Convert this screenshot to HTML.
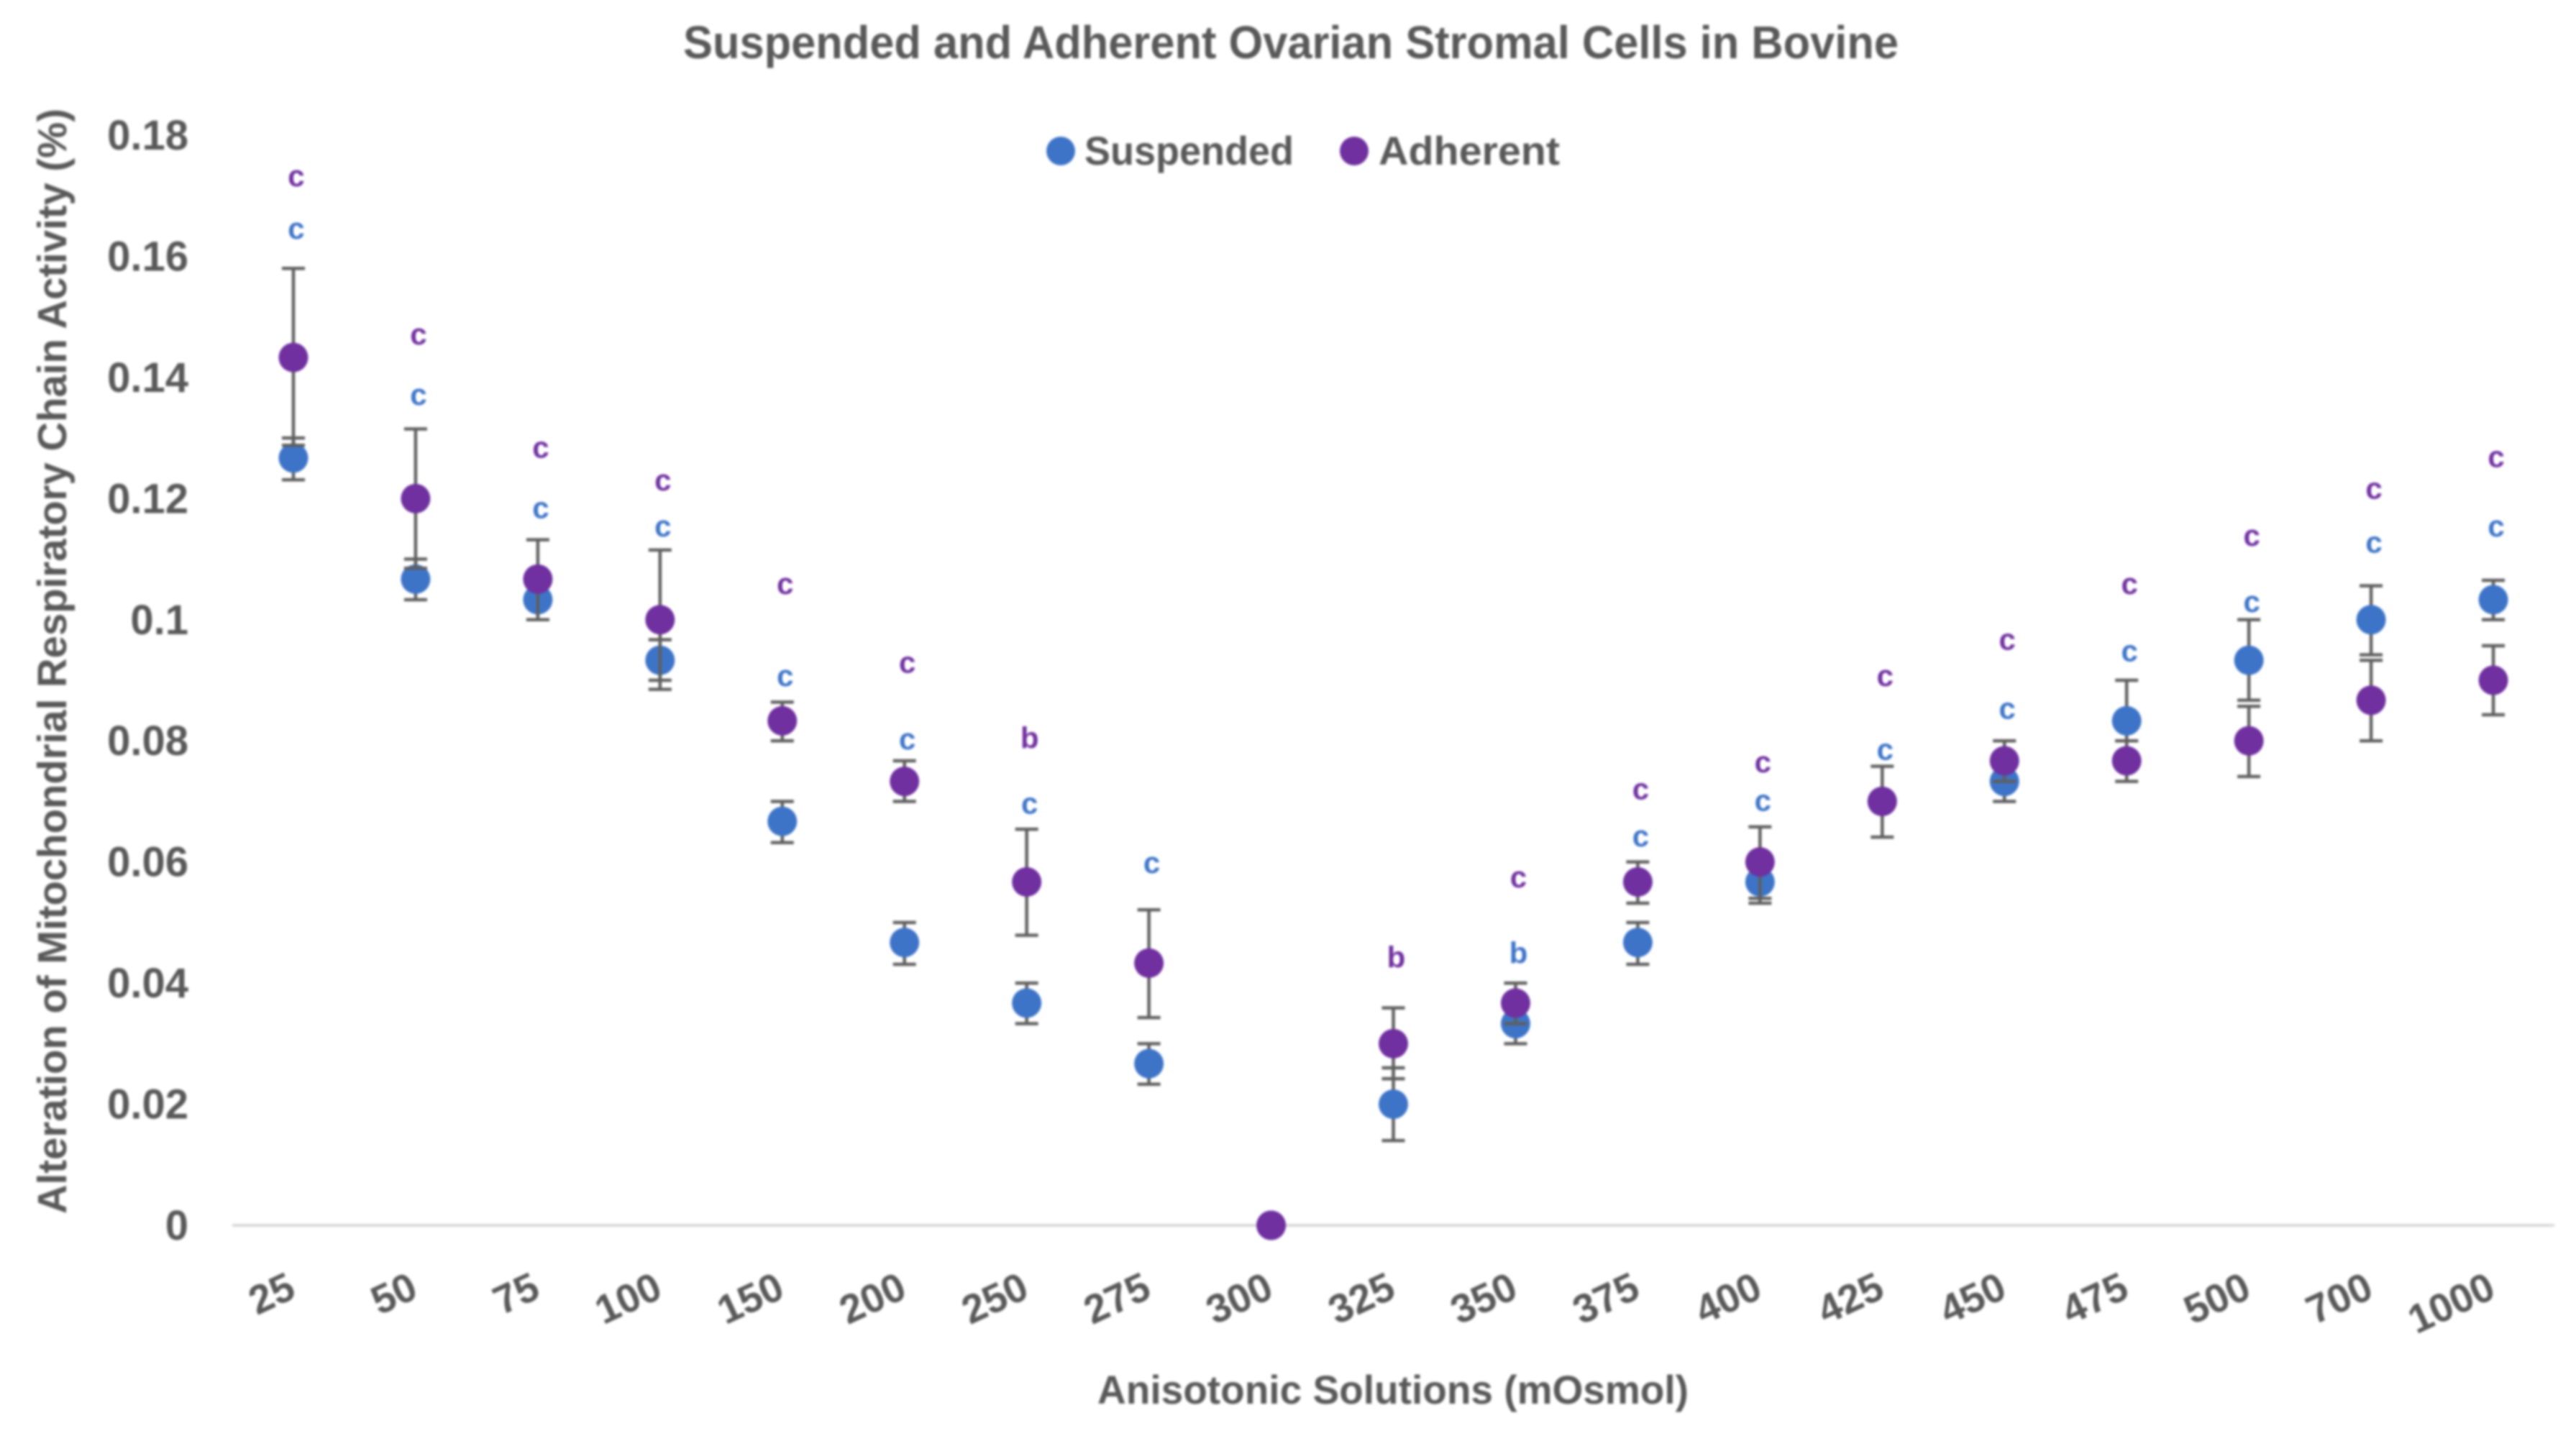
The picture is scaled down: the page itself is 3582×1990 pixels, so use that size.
<!DOCTYPE html>
<html lang="en">
<head>
<meta charset="utf-8">
<title>Suspended and Adherent Ovarian Stromal Cells in Bovine</title>
<style>
  html, body { margin: 0; padding: 0; background: #ffffff; }
  #chart { display: block; width: 3582px; height: 1990px; filter: blur(1.5px); }
  text { font-family: "Liberation Sans", sans-serif; font-weight: bold; fill: #595959; }
</style>
</head>
<body>
<svg id="chart" xmlns="http://www.w3.org/2000/svg" width="3582" height="1990" viewBox="0 0 3582 1990">
  <rect x="0" y="0" width="3582" height="1990" fill="#ffffff"/>
  <text x="950" y="81" font-size="64" textLength="1690" lengthAdjust="spacingAndGlyphs">Suspended and Adherent Ovarian Stromal Cells in Bovine</text>
  <text transform="translate(92,1688) rotate(-90)" x="0" y="0" font-size="57" textLength="1537" lengthAdjust="spacingAndGlyphs">Alteration of Mitochondrial Respiratory Chain Activity (%)</text>
  <text x="1526" y="1952" font-size="56" textLength="822" lengthAdjust="spacingAndGlyphs">Anisotonic Solutions (mOsmol)</text>
  <g>
    <g>
      <circle cx="1475" cy="210" r="20" fill="#3D74C8"/>
      <text x="1508" y="229" font-size="56" textLength="291" lengthAdjust="spacingAndGlyphs">Suspended</text>
    </g>
    <g>
      <circle cx="1883" cy="210" r="20" fill="#7030A0"/>
      <text x="1917" y="229" font-size="56" textLength="252" lengthAdjust="spacingAndGlyphs">Adherent</text>
    </g>
  </g>
  <g id="y-axis"></g>
  <g id="x-axis"></g>
  <g id="series-suspended"></g>
  <g id="series-adherent"></g>
</svg>
<script>
const categories = ['25','50','75','100','150','200','250','275','300','325','350','375','400','425','450','475','500','700','1000'];
const yTickLabels = ['0','0.02','0.04','0.06','0.08','0.1','0.12','0.14','0.16','0.18'];
const yTickValues = [0,0.02,0.04,0.06,0.08,0.1,0.12,0.14,0.16,0.18];

const suspendedValues = [0.1267,0.1067,0.1033,0.0933,0.0667,0.0467,0.0367,0.0267,0,0.02,0.0333,0.0467,0.0567,0.07,0.0733,0.0833,0.0933,0.1,0.1033];
const suspendedUpper = [0.13,0.11,0.1067,0.0967,0.07,0.05,0.04,0.03,null,0.026,0.0367,0.05,0.06,null,0.0767,0.09,0.1,0.1056,0.1065];
const suspendedLower = [0.1231,0.1033,0.1,0.09,0.0632,0.0431,0.0333,0.0233,null,0.014,0.03,0.0431,0.0532,null,0.07,0.08,0.0867,0.0942,0.1];
const suspendedLetters = ['c','c','c','c','c','c','c','c',null,null,'b','c','c','c','c','c','c','c','c'];
const suspendedLetterLevels = [0.1643,0.1369,0.1182,0.1152,0.0905,0.08,0.0694,0.0596,null,null,0.0447,0.064,0.0699,0.0783,0.0851,0.0946,0.1027,0.1125,0.1152];

const adherentValues = [0.1433,0.12,0.1067,0.1,0.0833,0.0733,0.0567,0.0433,0,0.03,0.0367,0.0567,0.06,0.07,0.0767,0.0767,0.08,0.0867,0.09];
const adherentUpper = [0.158,0.1315,0.1132,0.1115,0.0864,0.0767,0.0654,0.0521,null,0.0359,0.04,0.06,0.0658,0.0758,0.08,0.08,0.0857,0.0933,0.0957];
const adherentLower = [0.1288,0.1085,0.1,0.0885,0.08,0.07,0.0479,0.0343,null,0.0242,0.0333,0.0532,0.054,0.0641,0.0733,0.0733,0.0741,0.08,0.0843];
const adherentLetters = ['c','c','c','c','c','c','b',null,null,'b','c','c','c','c','c','c','c','c','c'];
const adherentLetterLevels = [0.173,0.1469,0.1282,0.1228,0.1057,0.0927,0.0802,null,null,0.044,0.0572,0.0718,0.0762,0.0905,0.0965,0.1057,0.1136,0.1214,0.1266];

const SVG_NS = 'http://www.w3.org/2000/svg';
const plotLeft = 323;
const plotRight = 3552;
const yZero = 1704;
const yTop = 188;
const yMax = 0.18;
const BLUE = '#3D74C8';
const PURPLE = '#7030A0';
const ERR = '#5F5F5F';

function xScale(i) {
  const band = (plotRight - plotLeft) / categories.length;
  return plotLeft + band * (i + 0.5);
}
function yScale(v) {
  return yZero - (v / yMax) * (yZero - yTop);
}
function make(tag, parent) {
  const el = document.createElementNS(SVG_NS, tag);
  parent.appendChild(el);
  return el;
}
function line(parent, x1, y1, x2, y2, color, width) {
  const el = make('line', parent);
  el.setAttribute('x1', x1);
  el.setAttribute('y1', y1);
  el.setAttribute('x2', x2);
  el.setAttribute('y2', y2);
  el.setAttribute('stroke', color);
  el.setAttribute('stroke-width', width);
  return el;
}

const yAxis = document.getElementById('y-axis');
yTickValues.forEach(function (v, i) {
  const t = make('text', yAxis);
  
  
  t.setAttribute('x', 262);
  t.setAttribute('y', yScale(v) + 20);
  t.setAttribute('text-anchor', 'end');
  t.setAttribute('font-size', '58');
  t.textContent = yTickLabels[i];
});

const xAxis = document.getElementById('x-axis');
const axisLine = line(xAxis, plotLeft, yZero, plotRight, yZero, '#D9D9D9', 4);


categories.forEach(function (c, i) {
  const t = make('text', xAxis);
  
  
  const px = xScale(i) + 6;
  const py = 1803;
  t.setAttribute('x', px);
  t.setAttribute('y', py);
  t.setAttribute('text-anchor', 'end');
  t.setAttribute('font-size', '56');
  t.setAttribute('transform', 'rotate(-25 ' + px + ' ' + py + ')');
  t.textContent = c;
});

function drawSeries(groupId, seriesName, color, values, upper, lower, letters, levels) {
  const group = document.getElementById(groupId);
  values.forEach(function (v, i) {
    if (upper[i] === null) { return; }
    const x = xScale(i);
    const stem = line(group, x, yScale(upper[i]), x, yScale(lower[i]), ERR, 4.5);
    
    
    const capTop = line(group, x - 16, yScale(upper[i]), x + 16, yScale(upper[i]), ERR, 4.5);
    
    
    const capBottom = line(group, x - 16, yScale(lower[i]), x + 16, yScale(lower[i]), ERR, 4.5);
    
    
  });
  values.forEach(function (v, i) {
    const dot = make('circle', group);
    
    
    dot.setAttribute('cx', xScale(i));
    dot.setAttribute('cy', yScale(v));
    dot.setAttribute('r', 20.5);
    dot.setAttribute('fill', color);
  });
  letters.forEach(function (letter, i) {
    if (letter === null) { return; }
    const t = make('text', group);
    
    
    t.setAttribute('x', xScale(i) + 4);
    t.setAttribute('y', yScale(levels[i]) + 12);
    t.setAttribute('text-anchor', 'middle');
    t.setAttribute('font-size', '42');
    t.style.fill = color;
    t.textContent = letter;
  });
}

drawSeries('series-suspended', 'suspended', BLUE, suspendedValues, suspendedUpper, suspendedLower, suspendedLetters, suspendedLetterLevels);
drawSeries('series-adherent', 'adherent', PURPLE, adherentValues, adherentUpper, adherentLower, adherentLetters, adherentLetterLevels);
</script>
</body>
</html>
